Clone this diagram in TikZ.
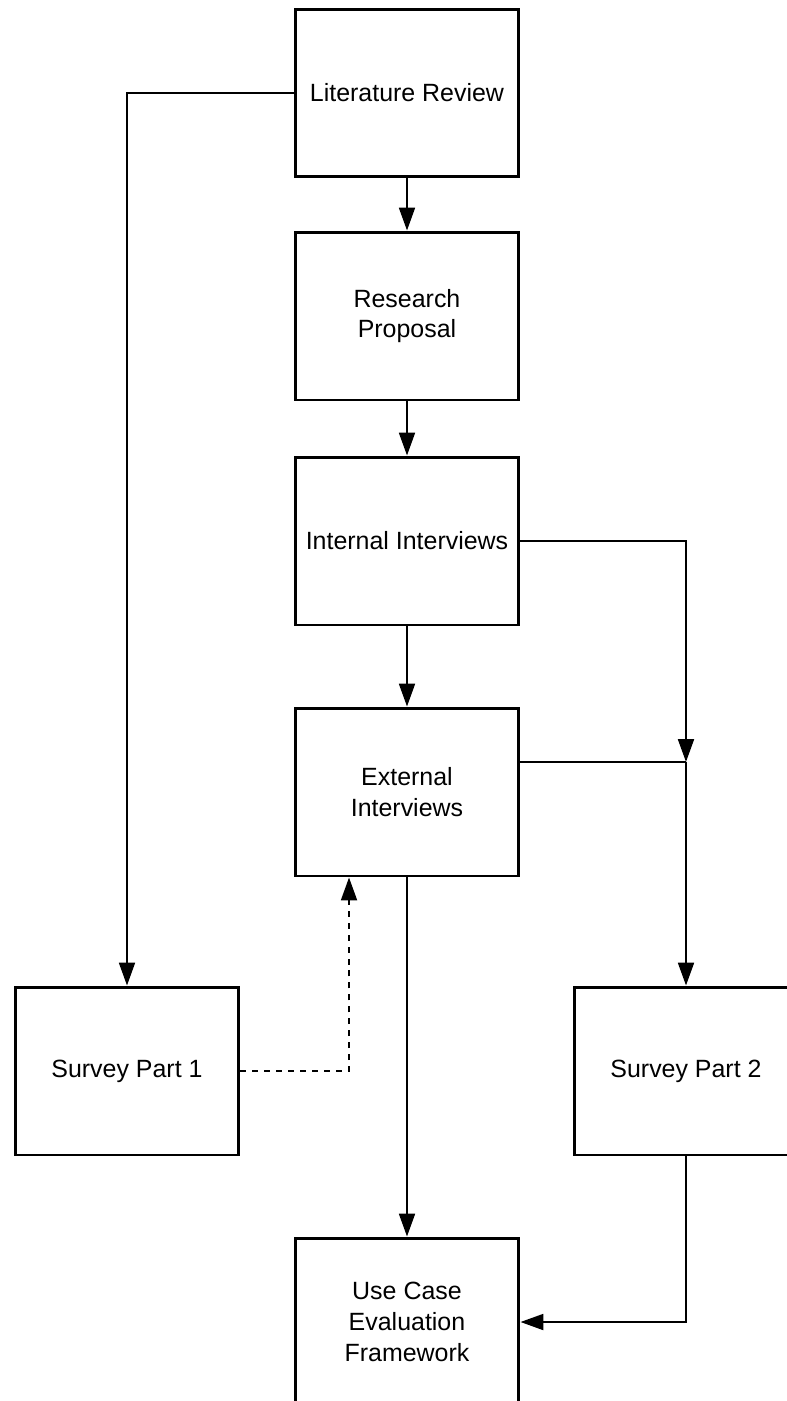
\documentclass[tikz,border=0pt]{standalone}
\usepackage{fontspec}
\setmainfont{Liberation Sans}
\usetikzlibrary{arrows.meta}

\begin{document}
\begin{tikzpicture}[x=0.02cm, y=-0.02cm,
    stage/.style={draw, line width=1.7pt, minimum width=4.48cm, minimum height=3.36cm,
                  align=center, font=\fontsize{14.2}{17.5}\selectfont, inner sep=0pt},
    flow/.style={line width=1.35pt, -{Triangle[length=13pt, width=9pt]}},
    link/.style={line width=1.35pt}]
            % Page frame of the reference
            \useasboundingbox (0,0) rectangle (787,1401);

            % Main column of stages
            \node[stage] (lit)  at (407,93)   {Literature Review};
            \node[stage] (prop) at (407,316)  {Research\\Proposal};
            \node[stage] (intl) at (407,541)  {Internal Interviews};
            \node[stage] (extl) at (407,792)  {External\\Interviews};
            \node[stage] (uc)   at (407,1322) {Use Case\\Evaluation\\Framework};

            % Side stages
            \node[stage] (s1) at (127,1071) {Survey Part 1};
            \node[stage] (s2) at (686,1071) {Survey Part 2};

            % Joins on the right hand side
            \coordinate (j1) at (686,541);
            \coordinate (j2) at (686,762);

            % Straight steps down the column
            \draw[flow] (lit) -- (prop);
            \draw[flow] (prop) -- (intl);
            \draw[flow] (intl) -- (extl);
            \draw[flow] (extl) -- (uc);

            % Literature review feeds the first survey
            \draw[flow] (lit.west) -| (s1.north);

            % Interviews feed the second survey
            \draw[flow] (intl.east) -- (j1) -- (j2);
            \draw[link] (extl.east |- j2) -- (j2);
            \draw[flow] (j2) -- (s2.north);
            \draw[flow] (s2.south) |- (uc.east);

            % Survey part 1 informs the external interviews
            \draw[flow, dash pattern=on 3.4pt off 3.4pt] (s1.east) -| ([xshift=-1.16cm]extl.south);

        \end{tikzpicture}
\end{document}
